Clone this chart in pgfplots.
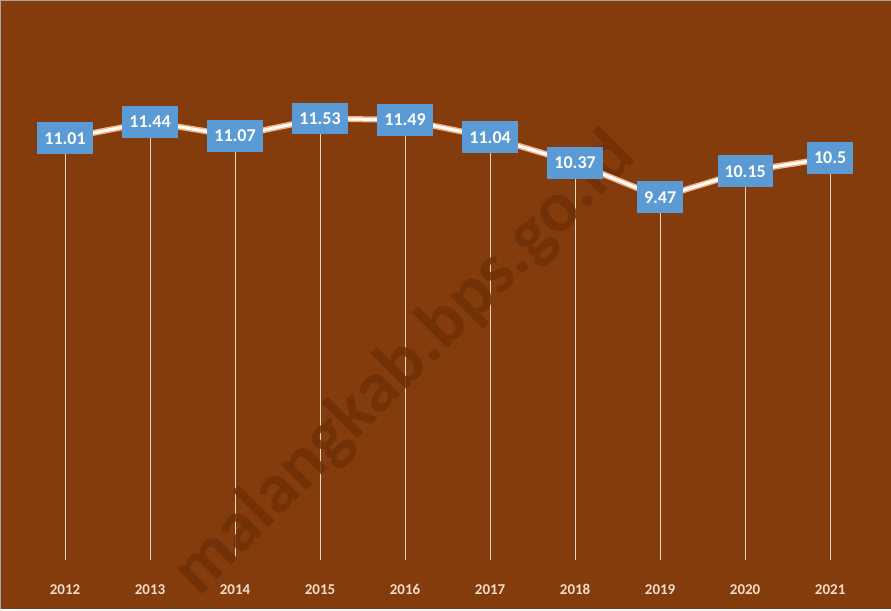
\documentclass[border=0pt]{standalone}
\usepackage{pgfplots}
\pgfplotsset{compat=1.18}
\usepackage{fontspec}
\setmainfont{Carlito}
\definecolor{bgbrown}{HTML}{843C0C}
\definecolor{wmbrown}{HTML}{713007}
\definecolor{lblue}{HTML}{5B9BD5}
\definecolor{glow}{HTML}{F4B183}
\definecolor{ticktxt}{HTML}{F3DCCB}
\definecolor{drop}{HTML}{F2D5BE}
\begin{document}
\begin{tikzpicture}
\fill[bgbrown] (0,0) rectangle (891bp,609bp);
\draw[gray!70, line width=1bp] (0.5bp,0) -- (0.5bp,608.5bp) -- (891bp,608.5bp);
\begin{axis}[
  at={(0,49bp)}, anchor=south west,
  scale only axis, width=891bp, height=559bp,
  xmin=-0.765, xmax=9.71, ymin=0, ymax=14.6,
  axis line style={draw=none},
  xtick={0,...,9},
  xticklabels={2012,2013,2014,2015,2016,2017,2018,2019,2020,2021},
  xticklabel style={anchor=center, yshift=-30bp, text=ticktxt, font=\fontsize{15bp}{17bp}\selectfont\bfseries},
  ytick=\empty,
  major tick length=0pt,
  clip=false,
]
\addplot[ycomb, draw=drop, line width=1bp, no markers] coordinates {
(0,11.01) (1,11.44) (2,11.07) (3,11.53) (4,11.49) (5,11.04) (6,10.37) (7,9.47) (8,10.15) (9,10.5)};
\node[wmbrown, opacity=0.85, rotate=45, font=\fontsize{72bp}{80bp}\selectfont\bfseries] at (axis cs:4.0,5.1) {malangkab.bps.go.id};
\addplot[glow, line width=6bp, line join=round, line cap=round, no markers] coordinates {
(0,11.01) (1,11.44) (2,11.07) (3,11.53) (4,11.49) (5,11.04) (6,10.37) (7,9.47) (8,10.15) (9,10.5)};
\addplot[white, line width=3bp, line join=round, line cap=round, no markers,
  nodes near coords,
  every node near coord/.append style={anchor=center, fill=lblue, text=white,
    font=\fontsize{18bp}{20bp}\selectfont\bfseries, inner xsep=7bp, inner ysep=10bp},
  point meta=explicit symbolic] coordinates {
(0,11.01) [11.01] (1,11.44) [11.44] (2,11.07) [11.07] (3,11.53) [11.53] (4,11.49) [11.49]
(5,11.04) [11.04] (6,10.37) [10.37] (7,9.47) [9.47] (8,10.15) [10.15] (9,10.5) [10.5]};
\end{axis}
\end{tikzpicture}
\end{document}
